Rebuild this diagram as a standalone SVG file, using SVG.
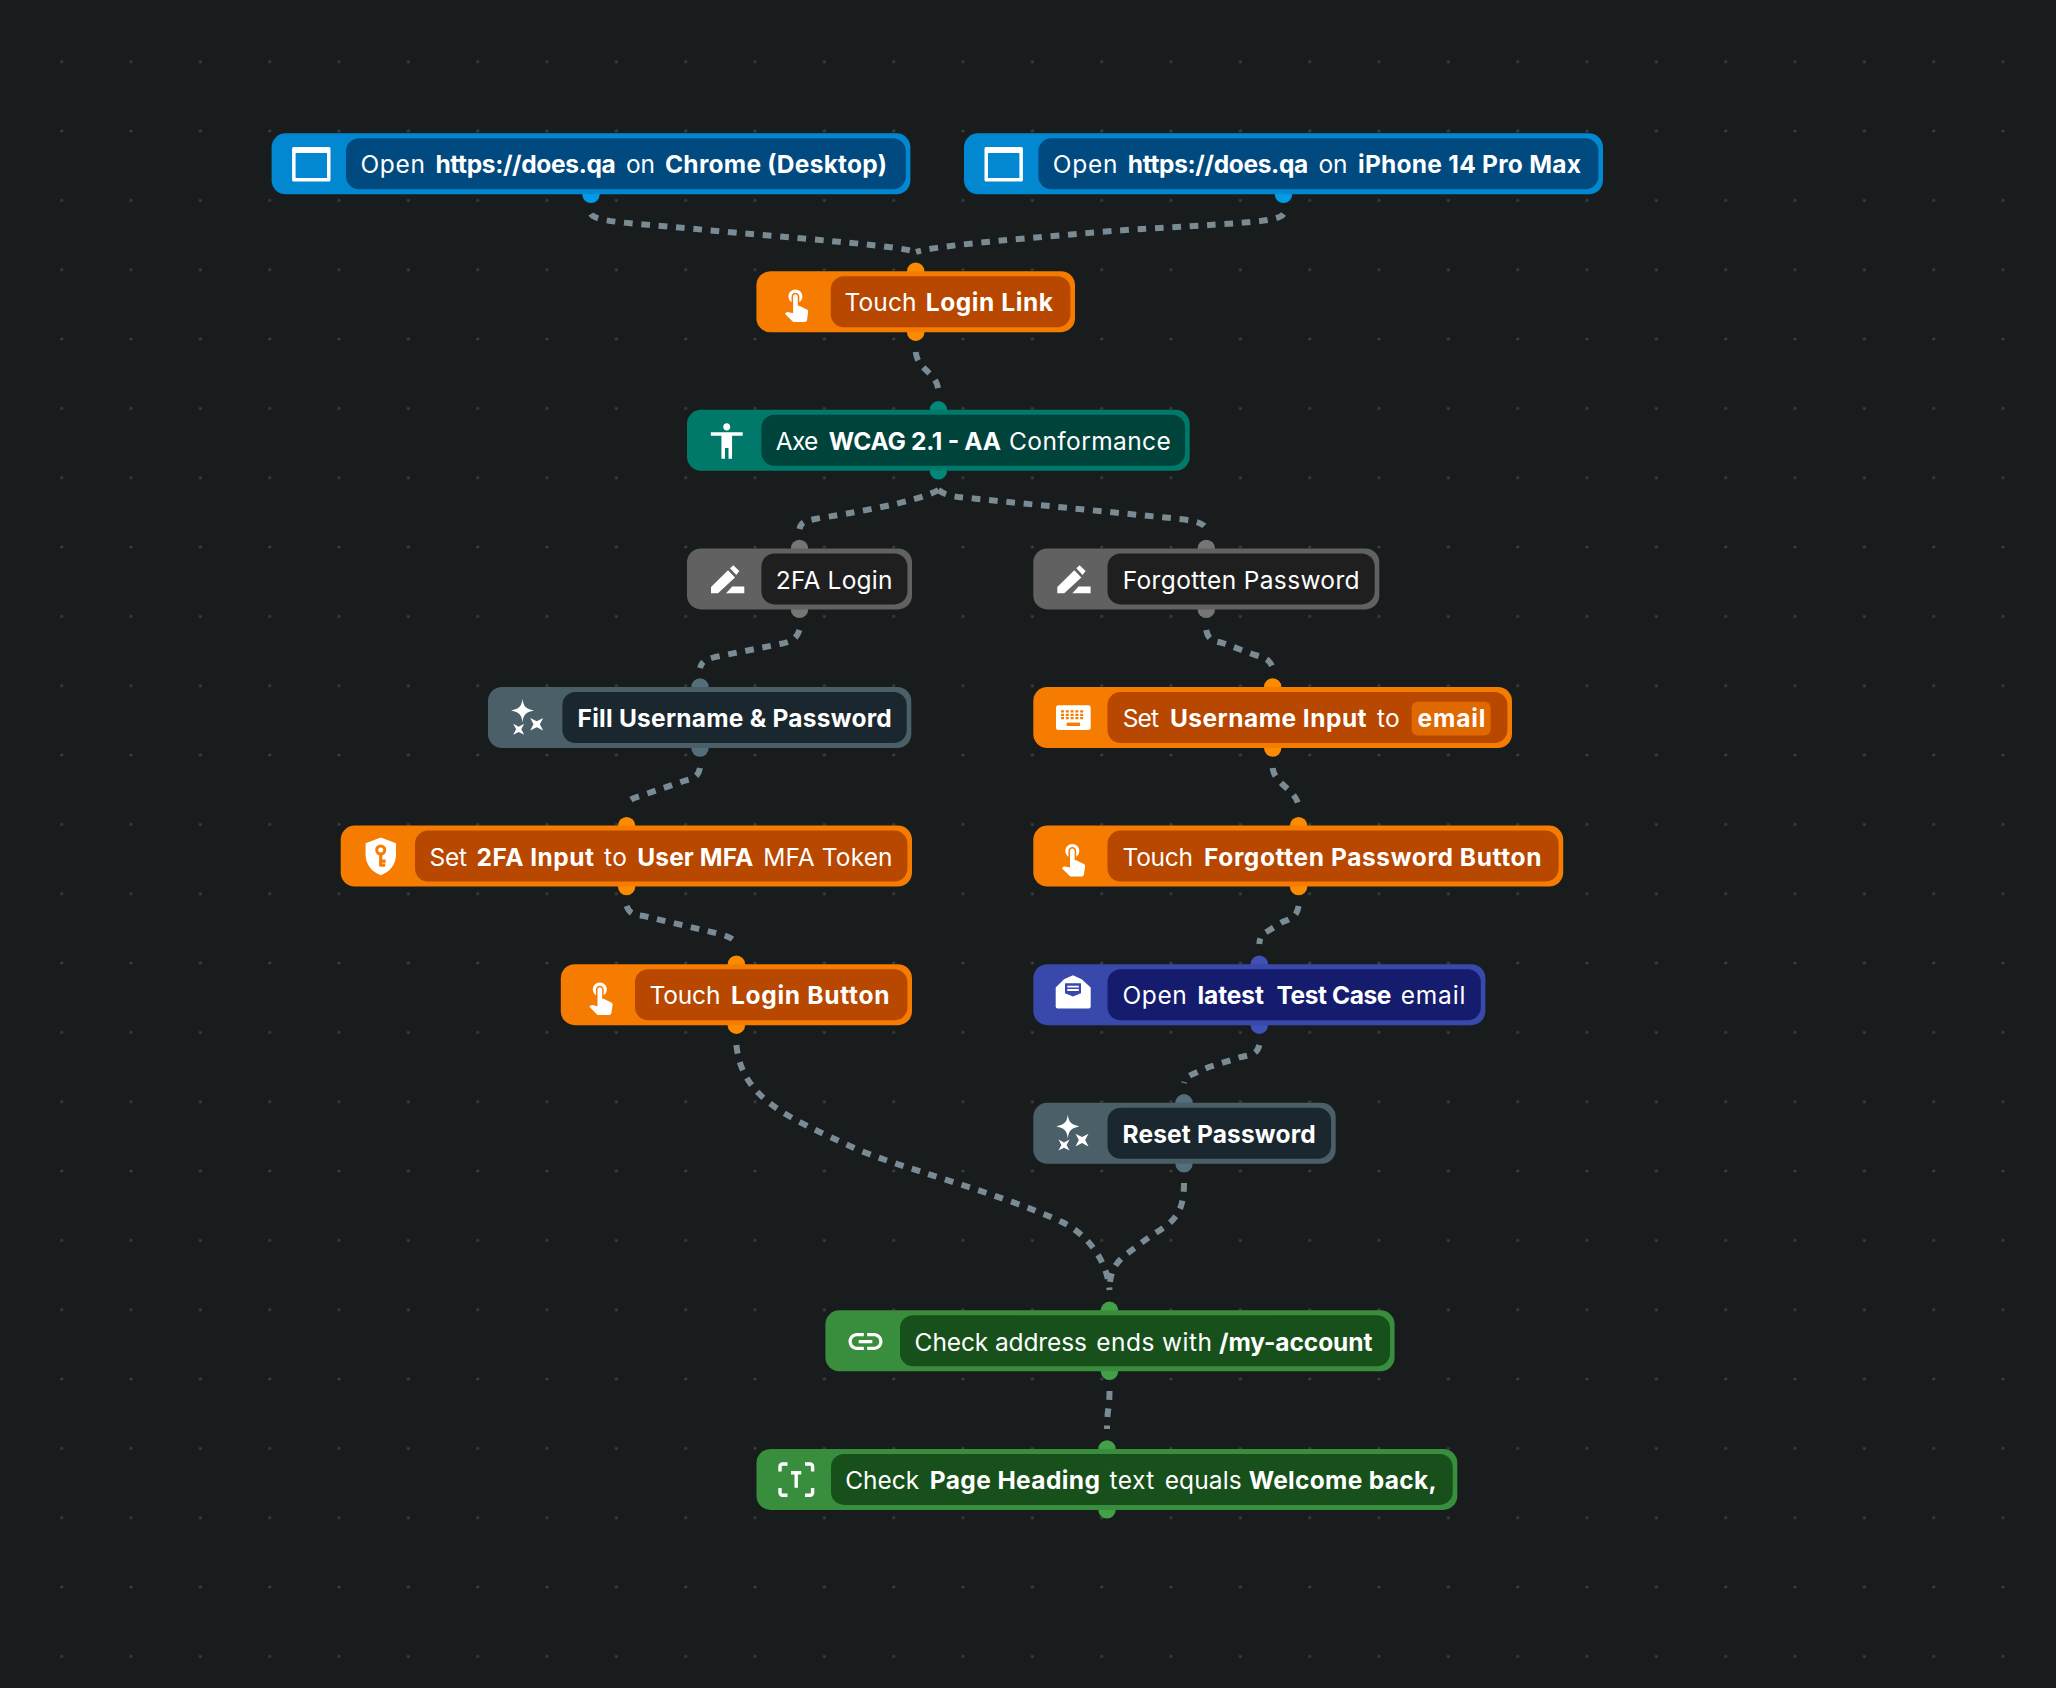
<svg xmlns="http://www.w3.org/2000/svg" width="2056" height="1688" viewBox="0 0 2056 1688">
<style>
text{font-family:"Inter","Liberation Sans",sans-serif;font-size:24.5px;fill:#fff;transform:translate(0,1.2px)}
.r{font-weight:400}.b{font-weight:700}
.o{fill:var(--h)}
.conn path{fill:none;stroke:#7a8b93;stroke-width:6;stroke-dasharray:8.7 8.7}
.blue{--h:#0288d1;--p:#039be5;--i:#004a80;color:#0288d1}
.orange{--h:#f57c00;--p:#fb8c00;--i:#b84700;color:#f57c00}
.teal{--h:#00796b;--p:#00897b;--i:#00433a;color:#00796b}
.gray{--h:#616161;--p:#757575;--i:#1f1f1f;color:#616161}
.slate{--h:#4b5f69;--p:#546e7a;--i:#1b272e;color:#4b5f69}
.indigo{--h:#3949ab;--p:#3f51b5;--i:#151b6d;color:#3949ab}
.green{--h:#388e3c;--p:#43a047;--i:#17501b;color:#388e3c}
.p{fill:var(--p)}.i{fill:var(--i)}
.ic{fill:#fff}
</style>
<defs>
<pattern id="grid" x="27" y="27" width="69.333" height="69.333" patternUnits="userSpaceOnUse"><circle cx="34.667" cy="34.667" r="1.6" fill="#3a3e40"/></pattern>
<path id="i-window" class="ic" fill-rule="evenodd" d="M22 13.6H57.4a1.500 1.500 0 0 1 1.500 1.500V46.600a1.500 1.500 0 0 1-1.500 1.500H22a1.500 1.500 0 0 1-1.500-1.500V15.100a1.500 1.500 0 0 1 1.500-1.500ZM24 19.700V44.800H55.400V19.700Z"/>
<path id="i-touch" class="ic" transform="translate(21.2 13.7) scale(1.55)" d="M9 11.24V7.5C9 6.12 10.12 5 11.5 5S14 6.12 14 7.5v3.74c1.21-.81 2-2.18 2-3.74C16 5.01 13.99 3 11.5 3S7 5.01 7 7.5c0 1.56.79 2.93 2 3.74zm9.84 4.63l-4.54-2.26c-.17-.07-.35-.11-.54-.11H13v-6c0-.83-.67-1.5-1.5-1.5S10 6.67 10 7.5v10.74l-3.43-.72c-.08-.01-.15-.03-.24-.03-.31 0-.59.13-.79.33l-.79.8 4.94 4.94c.27.27.65.44 1.06.44h6.79c.75 0 1.33-.55 1.44-1.28l.75-5.27c.01-.07.02-.14.02-.2 0-.62-.38-1.16-.91-1.38z"/>
<path id="i-access" class="ic" transform="translate(18.5 10) scale(1.77)" d="M12 2c1.1 0 2 .9 2 2s-.9 2-2 2-2-.9-2-2 .9-2 2-2zm9 7h-6v13h-2v-6h-2v6H9V9H3V7h18v2z"/>
<path id="i-edit" class="ic" d="M24 38.6L41 21.9L48 29.2L31 44.9H24ZM43 19.9L46.3 16.9L52.3 22.6L49.3 26.6ZM39 44.9L45.3 38.2H57.3V44.9Z"/>
<path id="i-spark" class="ic" d="M34.5 11.800C35.500 19.500 37.500 21.800 46 23.600C37.500 25.400 35.500 27.700 34.500 35.400C33.500 27.700 31.500 25.400 23 23.600C31.500 21.800 33.500 19.500 34.500 11.800ZM42.200 31L48.700 34.300L55.200 31L51.900 37.300L55.200 43.600L48.700 40.300L42.200 43.600L45.500 37.300ZM25.200 36.800L30.700 39.700L36.200 36.800L33.300 42.300L36.200 47.800L30.700 44.900L25.200 47.800L28.100 42.300Z"/>
<g id="i-keyboard"><rect class="ic" x="22.7" y="18.3" width="34.7" height="24.7" rx="2.5"/><path fill="none" stroke="currentColor" stroke-width="2.3" stroke-dasharray="3 1.8" d="M27.7 24.4H51.7M27.7 27.8H51.7M27.7 31.2H51.7"/><rect fill="currentColor" x="33.4" y="35.6" width="13.3" height="3.4"/></g>
<g id="i-shield"><path class="ic" d="M40.1 12L55.3 17.7V29C55.3 39 49 46.5 40.1 49.7C31.2 46.5 24.9 39 24.9 29V17.7Z"/><g fill="none" stroke="currentColor"><circle cx="40" cy="24.4" r="4" stroke-width="3"/><path stroke-width="3.2" d="M40 28V41M40 35.5H45M40 39.5H44.5"/></g></g>
<g id="i-draft"><path class="ic" d="M39.7 11.1L48.4 15.1L57.4 23.4V42.4a2 2 0 0 1-2 2H24.4a2 2 0 0 1-2-2V23.4L30.7 15.1Z"/><path fill="currentColor" d="M31.7 19.1H47.7V29.1L39.7 32.4L31.7 29.1Z"/><path fill="none" stroke="#fff" stroke-width="1.8" d="M34 22.5H45.5M34 25.8H45.5"/></g>
<path id="i-link" class="ic" transform="translate(19.7 10.9) scale(1.7)" d="M3.9 12c0-1.71 1.39-3.1 3.1-3.1h4V7H7c-2.76 0-5 2.24-5 5s2.24 5 5 5h4v-1.9H7c-1.71 0-3.1-1.39-3.1-3.1zM8 13h8v-2H8v2zm9-6h-4v1.9h4c1.71 0 3.1 1.39 3.1 3.1s-1.39 3.1-3.1 3.1h-4V17h4c2.76 0 5-2.24 5-5s-2.24-5-5-5z"/>
<path id="i-frame" fill="none" stroke="#fff" stroke-width="3.4" d="M23.5 22.5V17.6a2.5 2.5 0 0 1 2.5-2.5H31M48.5 15.1H53.6a2.5 2.5 0 0 1 2.5 2.5V22.5M56.1 39V43.9a2.5 2.5 0 0 1-2.5 2.5H48.5M31 46.4H26a2.5 2.5 0 0 1-2.5-2.5V39M34.5 23.8H44.8M39.7 23.8V38.8"/>
</defs>
<rect width="2056" height="1688" fill="#181c1d"/>
<rect width="2056" height="1688" fill="url(#grid)"/>
<g id="connectors" class="conn">
<path d="M591 214C596 222 625 222.500 706 230C790 238 895 245 916 252"/>
<path d="M1283.500 214C1278 222 1250 222.500 1125 230C1040 237 937 245 916 252"/>
<path d="M915.700 352C918 371 936 371 938.400 390"/>
<path d="M938.400 490C915 503 850 513 815 519C805 521 801 522 799.500 529"/>
<path d="M938.400 490C945 495 952 496 958 497L1180 519C1196 521 1204 523 1206.300 529"/>
<path d="M799.500 630C796 640 790 642 780 644L715 657C705 660 702 661 700 668"/>
<path d="M1206.300 630C1208 641 1215 641 1222.700 643L1255 655C1266 658 1270 660 1272.700 668"/>
<path d="M1272.700 768C1274 784 1296 789 1298.600 806"/>
<path d="M700 768C698 779 690 779 684 781L640 796C630 799 628 801 626.600 806"/>
<path d="M626.600 906C630 915 636 915 644 916L720 934C730 937 734 939 736.400 944"/>
<path d="M1298.600 906C1297 917 1290 919 1282.500 922L1268 931C1261 935 1260 937 1259.300 944"/>
<path d="M1259.300 1045C1257 1055 1250 1055 1241 1057L1209 1067L1193 1074C1186 1077 1185 1079 1184 1083"/>
<path d="M736.400 1045C742 1100 790 1118 852 1147C890 1165 1000 1193 1062 1222C1085 1233 1107 1258 1109.500 1290"/>
<path d="M1184 1183C1184 1224 1165 1224 1140 1244C1120 1259 1110 1264 1109.500 1290"/>
<path d="M1109.500 1391C1109.500 1409 1107 1409 1107 1429"/>
</g>
<g id="n-chrome" class="blue">
<circle class="p" cx="591" cy="194.300" r="8.700"/>
<rect class="o" x="271.600" y="133.300" width="638.800" height="61" rx="14"/><rect class="i" x="346" y="138.300" width="559.800" height="51" rx="13"/>
<use href="#i-window" transform="translate(271.600 133.300)"/>
<text y="172.300"><tspan class="r" x="360.400" textLength="64.600">Open</tspan> <tspan class="b" x="435.400" textLength="180.400">https://does.qa</tspan> <tspan class="r" x="626" textLength="29">on</tspan> <tspan class="b" x="665" textLength="222">Chrome (Desktop)</tspan></text>
</g>
<g id="n-iphone" class="blue">
<circle class="p" cx="1283.500" cy="194.300" r="8.700"/>
<rect class="o" x="964" y="133.300" width="639" height="61" rx="14"/><rect class="i" x="1038.400" y="138.300" width="560" height="51" rx="13"/>
<use href="#i-window" transform="translate(964 133.300)"/>
<text y="172.300"><tspan class="r" x="1052.800" textLength="64.600">Open</tspan> <tspan class="b" x="1127.800" textLength="180.400">https://does.qa</tspan> <tspan class="r" x="1318.400" textLength="29">on</tspan> <tspan class="b" x="1358" textLength="223">iPhone 14 Pro Max</tspan></text>
</g>
<g id="nodes-lower" transform="translate(0 -.7)">
<g id="n-touch-link" class="orange">
<circle class="p" cx="915.700" cy="271.900" r="8.700"/><circle class="p" cx="915.700" cy="332.900" r="8.700"/>
<rect class="o" x="756.400" y="271.900" width="318.600" height="61" rx="14"/><rect class="i" x="830.800" y="276.900" width="239.600" height="51" rx="13"/>
<use href="#i-touch" transform="translate(756.400 271.900)"/>
<text y="310.900"><tspan class="r" x="844.500" textLength="72">Touch</tspan> <tspan class="b" x="925.700" textLength="127.300">Login Link</tspan></text>
</g>
<g id="n-axe" class="teal">
<circle class="p" cx="938.400" cy="410.500" r="8.700"/><circle class="p" cx="938.400" cy="471.500" r="8.700"/>
<rect class="o" x="687" y="410.500" width="502.700" height="61" rx="14"/><rect class="i" x="761.400" y="415.500" width="423.700" height="51" rx="13"/>
<use href="#i-access" transform="translate(687 410.500)"/>
<text y="449.500"><tspan class="r" x="775.800" textLength="42.500">Axe</tspan> <tspan class="b" x="828.700" textLength="172.300">WCAG 2.1 - AA</tspan> <tspan class="r" x="1009" textLength="161.800">Conformance</tspan></text>
</g>
<g id="n-2fa" class="gray">
<circle class="p" cx="799.500" cy="549.100" r="8.700"/><circle class="p" cx="799.500" cy="610.100" r="8.700"/>
<rect class="o" x="687" y="549.100" width="225" height="61" rx="14"/><rect class="i" x="761.400" y="554.100" width="146" height="51" rx="13"/>
<use href="#i-edit" transform="translate(687 549.100)"/>
<text y="588.100"><tspan class="r" x="775.800" textLength="116.600">2FA Login</tspan></text>
</g>
<g id="n-forgotten" class="gray">
<circle class="p" cx="1206.300" cy="549.100" r="8.700"/><circle class="p" cx="1206.300" cy="610.100" r="8.700"/>
<rect class="o" x="1033.300" y="549.100" width="346" height="61" rx="14"/><rect class="i" x="1107.500" y="554.100" width="267.200" height="51" rx="13"/>
<use href="#i-edit" transform="translate(1033.300 549.100)"/>
<text y="588.100"><tspan class="r" x="1122.700" textLength="236.900">Forgotten Password</tspan></text>
</g>
<g id="n-fill" class="slate">
<circle class="p" cx="700" cy="687.700" r="8.700"/><circle class="p" cx="700" cy="748.700" r="8.700"/>
<rect class="o" x="488" y="687.700" width="423.300" height="61" rx="14"/><rect class="i" x="562.400" y="692.700" width="344.300" height="51" rx="13"/>
<use href="#i-spark" transform="translate(488 687.700)"/>
<text y="726.700"><tspan class="b" x="577.600" textLength="314.200">Fill Username &amp; Password</tspan></text>
</g>
<g id="n-set-username" class="orange">
<circle class="p" cx="1272.700" cy="687.700" r="8.700"/><circle class="p" cx="1272.700" cy="748.700" r="8.700"/>
<rect class="o" x="1033.300" y="687.700" width="478.700" height="61" rx="14"/><rect class="i" x="1107.500" y="692.700" width="399.900" height="51" rx="13"/>
<use href="#i-keyboard" transform="translate(1033.300 687.700)"/>
<rect x="1411.700" y="702.400" width="79" height="33.700" rx="6" fill="#e06800"/>
<text y="726.700"><tspan class="r" x="1122.700" textLength="36.300">Set</tspan> <tspan class="b" x="1169.900" textLength="196.700">Username Input</tspan> <tspan class="r" x="1377" textLength="22.700">to</tspan> <tspan class="b" x="1417.500" textLength="68">email</tspan></text>
</g>
<g id="n-set-2fa" class="orange">
<circle class="p" cx="626.600" cy="826.300" r="8.700"/><circle class="p" cx="626.600" cy="887.300" r="8.700"/>
<rect class="o" x="340.700" y="826.300" width="571.300" height="61" rx="14"/><rect class="i" x="415" y="831.300" width="492.400" height="51" rx="13"/>
<use href="#i-shield" transform="translate(340.700 826.300)"/>
<text y="865.300"><tspan class="r" x="429.500" textLength="37.500">Set</tspan> <tspan class="b" x="476.600" textLength="117.400">2FA Input</tspan> <tspan class="r" x="604" textLength="23">to</tspan> <tspan class="b" x="637.300" textLength="116">User MFA</tspan> <tspan class="r" x="763.200" textLength="129.400">MFA Token</tspan></text>
</g>
<g id="n-touch-forgotten" class="orange">
<circle class="p" cx="1298.600" cy="826.300" r="8.700"/><circle class="p" cx="1298.600" cy="887.300" r="8.700"/>
<rect class="o" x="1033.300" y="826.300" width="529.900" height="61" rx="14"/><rect class="i" x="1107.500" y="831.300" width="451.100" height="51" rx="13"/>
<use href="#i-touch" transform="translate(1033.300 826.300)"/>
<text y="865.300"><tspan class="r" x="1122.500" textLength="70.500">Touch</tspan> <tspan class="b" x="1204" textLength="337.400">Forgotten Password Button</tspan></text>
</g>
<g id="n-touch-login" class="orange">
<circle class="p" cx="736.400" cy="964.900" r="8.700"/><circle class="p" cx="736.400" cy="1025.900" r="8.700"/>
<rect class="o" x="560.800" y="964.900" width="351.200" height="61" rx="14"/><rect class="i" x="635" y="969.900" width="272.400" height="51" rx="13"/>
<use href="#i-touch" transform="translate(560.800 964.900)"/>
<text y="1003.900"><tspan class="r" x="649.600" textLength="70.800">Touch</tspan> <tspan class="b" x="731" textLength="158.500">Login Button</tspan></text>
</g>
<g id="n-open-latest" class="indigo">
<circle class="p" cx="1259.300" cy="964.900" r="8.700"/><circle class="p" cx="1259.300" cy="1025.900" r="8.700"/>
<rect class="o" x="1033.300" y="964.900" width="452.100" height="61" rx="14"/><rect class="i" x="1107.500" y="969.900" width="373.300" height="51" rx="13"/>
<use href="#i-draft" transform="translate(1033.300 964.900)"/>
<text y="1003.900"><tspan class="r" x="1122.500" textLength="64.300">Open</tspan> <tspan class="b" x="1197.500" textLength="66.500">latest</tspan> <tspan class="b" x="1276.400" textLength="115">Test Case</tspan> <tspan class="r" x="1400.700" textLength="64.700">email</tspan></text>
</g>
<g id="n-reset" class="slate">
<circle class="p" cx="1184" cy="1103.500" r="8.700"/><circle class="p" cx="1184" cy="1164.500" r="8.700"/>
<rect class="o" x="1033.300" y="1103.500" width="302.400" height="61" rx="14"/><rect class="i" x="1107.500" y="1108.500" width="223.600" height="51" rx="13"/>
<use href="#i-spark" transform="translate(1033.300 1103.500)"/>
<text y="1142.500"><tspan class="b" x="1122.500" textLength="193.200">Reset Password</tspan></text>
</g>
<g id="n-check-address" class="green">
<circle class="p" cx="1109.500" cy="1311" r="8.700"/><circle class="p" cx="1109.500" cy="1372" r="8.700"/>
<rect class="o" x="825.400" y="1311" width="569.200" height="61" rx="14"/><rect class="i" x="900" y="1316" width="490" height="51" rx="13"/>
<use href="#i-link" transform="translate(825.400 1311)"/>
<text y="1350"><tspan class="r" x="914.600" textLength="172.300">Check address</tspan> <tspan class="r" x="1096.300" textLength="115.600">ends with</tspan> <tspan class="b" x="1219" textLength="153.400">/my-account</tspan></text>
</g>
<g id="n-check-heading" class="green">
<circle class="p" cx="1107" cy="1449.600" r="8.700"/><circle class="p" cx="1107" cy="1510.600" r="8.700"/>
<rect class="o" x="756.500" y="1449.600" width="700.800" height="61" rx="14"/><rect class="i" x="831" y="1454.600" width="621.700" height="51" rx="13"/>
<use href="#i-frame" transform="translate(756.500 1449.600)"/>
<text y="1488.600"><tspan class="r" x="845.200" textLength="74.100">Check</tspan> <tspan class="b" x="929.700" textLength="170.300">Page Heading</tspan> <tspan class="r" x="1109.500" textLength="44.800">text</tspan> <tspan class="r" x="1164.700" textLength="77">equals</tspan> <tspan class="b" x="1248.700" textLength="187.900">Welcome back,</tspan></text>
</g>
</g>
</svg>
